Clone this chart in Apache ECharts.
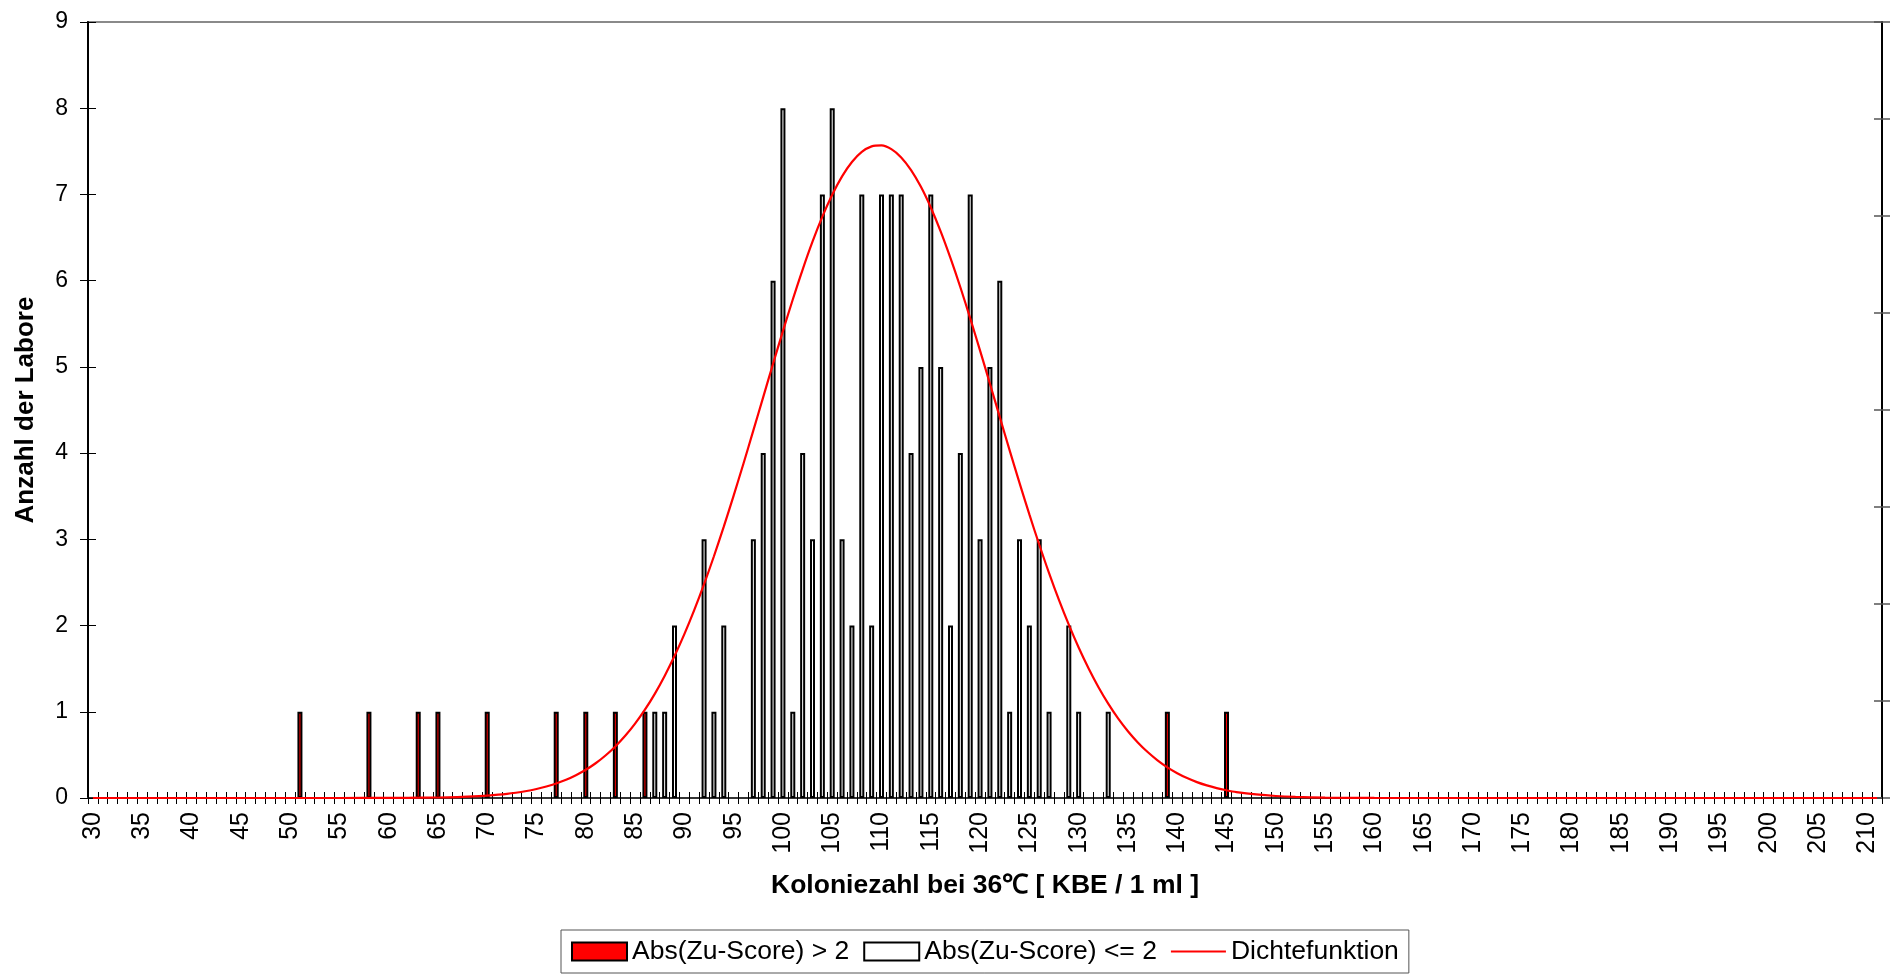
<!DOCTYPE html>
<html>
<head>
<meta charset="utf-8">
<script src="https://cdn.jsdelivr.net/npm/echarts@6/dist/echarts.min.js"></script>
<style>
  html, body { margin: 0; padding: 0; background: #fff; }
  #chart { width: 1899px; height: 978px; }
</style>
</head>
<body>
<div id="chart"></div>
<script>
// Colony counts (KBE / 1 ml), one category per integer value
const firstValue = 30;
const lastValue = 211;
const categories = [];
for (let v = firstValue; v <= lastValue; v++) categories.push(String(v));

// Labs with |z-score| > 2
const outlierX = [51, 58, 63, 65, 70, 77, 80, 83, 86, 139, 145];
const outlierCount = [1, 1, 1, 1, 1, 1, 1, 1, 1, 1, 1];

// Labs with |z-score| <= 2
const regularX = [87, 88, 89, 92, 93, 94, 97, 98, 99, 100, 101, 102, 103, 104, 105, 106, 107, 108, 109, 110,
                  111, 112, 113, 114, 115, 116, 117, 118, 119, 120, 121, 122, 123, 124, 125, 126, 127, 129, 130, 133];
const regularCount = [1, 1, 2, 3, 1, 2, 3, 4, 6, 8, 1, 4, 3, 7, 8, 3, 2, 7, 2, 7,
                      7, 7, 4, 5, 7, 5, 2, 4, 7, 3, 5, 6, 1, 3, 2, 3, 1, 2, 1, 1];

// Density curve sample points
const densityX = [30, 40, 50, 55, 60, 62, 64, 66, 68, 70, 72, 74, 75, 76, 77, 78, 79, 80, 81, 82, 83, 84, 85,
                  86, 87, 88, 89, 90, 91, 92, 93, 94, 95, 96, 97, 98, 99, 100, 101, 102, 103, 104, 105,
                  106, 107, 108, 109, 110, 111, 112, 113, 114, 115, 116, 117, 118, 119, 120, 121, 122, 123,
                  124, 125, 126, 127, 128, 129, 130, 131, 132, 133, 134, 135, 136, 137, 138, 139, 140, 141,
                  142, 143, 144, 145, 146, 148, 150, 152, 155, 160, 170, 180, 190, 200, 211];
const densityY = [0, 0, 0, 0, 0.001, 0.002, 0.005, 0.008, 0.016, 0.028, 0.048, 0.081, 0.104, 0.133, 0.168, 0.211, 0.264, 0.327, 0.403, 0.493, 0.598, 0.721, 0.862,
                  1.024, 1.208, 1.416, 1.646, 1.901, 2.179, 2.481, 2.804, 3.147, 3.507, 3.880, 4.263, 4.650, 5.036, 5.415, 5.782, 6.129, 6.452, 6.743, 6.997,
                  7.210, 7.376, 7.493, 7.557, 7.568, 7.525, 7.429, 7.282, 7.088, 6.849, 6.572, 6.261, 5.924, 5.563, 5.188, 4.805, 4.417, 4.032,
                  3.655, 3.289, 2.940, 2.608, 2.297, 2.010, 1.745, 1.505, 1.288, 1.095, 0.924, 0.775, 0.645, 0.533, 0.437, 0.356, 0.288, 0.231,
                  0.184, 0.146, 0.115, 0.090, 0.069, 0.041, 0.023, 0.013, 0.005, 0.001, 0, 0, 0, 0, 0];

const yTicks = [0, 1, 2, 3, 4, 5, 6, 7, 8, 9];

const FONT = "'Liberation Sans', Arial, sans-serif";

function alignToCategories(xs, ys) {
  return categories.map(c => {
    const i = xs.indexOf(Number(c));
    return i < 0 ? null : ys[i];
  });
}

const outlierSeries = alignToCategories(outlierX, outlierCount);
const regularSeries = alignToCategories(regularX, regularCount);
const densitySeries = densityX.map((x, i) => [String(x), densityY[i]]);

const chart = echarts.init(document.getElementById('chart'), null, { renderer: 'canvas' });

const hiddenAxisBits = { axisLabel: { show: false }, splitLine: { show: false } };

chart.setOption({
  animation: false,
  backgroundColor: '#ffffff',
  textStyle: { fontFamily: FONT, color: '#000' },
  grid: {
    left: 88, right: 17, top: 22, bottom: 180,
    show: true, borderColor: '#8a8a8a', borderWidth: 2, backgroundColor: 'transparent'
  },
  legend: {
    left: 561, top: 930,
    padding: [8, 10],
    itemGap: 14,
    itemWidth: 55, itemHeight: 18,
    borderColor: '#555', borderWidth: 1,
    backgroundColor: '#fff',
    textStyle: { fontFamily: FONT, fontSize: 26.5, color: '#000' },
    data: [
      { name: 'Abs(Zu-Score) > 2', icon: 'rect' },
      { name: 'Abs(Zu-Score) <= 2', icon: 'rect' },
      { name: 'Dichtefunktion', icon: 'path://M0,0 L55,0 L55,2.2 L0,2.2 Z', itemStyle: { color: '#ff0000', borderWidth: 0 } }
    ]
  },
  xAxis: [
    {
      type: 'category', data: categories, position: 'bottom', boundaryGap: true,
      axisLine: { show: true, onZero: false, lineStyle: { color: '#333', width: 2 } },
      axisTick: { show: true, interval: 0, length: 6, lineStyle: { color: '#000', width: 1 } },
      axisLabel: { interval: 4, rotate: 90, fontSize: 25, color: '#000', margin: 14, fontFamily: FONT },
      splitLine: { show: false },
      name: 'Koloniezahl bei 36℃ [ KBE / 1 ml ]',
      nameLocation: 'middle', nameGap: 74,
      nameTextStyle: { fontFamily: FONT, fontWeight: 'bold', fontSize: 26.5, color: '#000' }
    },
    {
      type: 'category', data: categories, position: 'bottom', boundaryGap: true,
      axisLine: { show: false, onZero: false },
      axisTick: { show: true, inside: true, interval: 0, length: 6, lineStyle: { color: '#000', width: 1 } },
      ...hiddenAxisBits
    }
  ],
  yAxis: [
    {
      type: 'value', position: 'left', min: yTicks[0], max: yTicks[yTicks.length - 1], interval: 1,
      axisLine: { show: true, onZero: false, lineStyle: { color: '#000', width: 2 } },
      axisTick: { show: true, length: 8, lineStyle: { color: '#000', width: 1 } },
      axisLabel: { fontSize: 23, margin: 20, color: '#000', fontFamily: FONT },
      splitLine: { show: false },
      name: 'Anzahl der Labore',
      nameLocation: 'middle', nameGap: 49,
      nameTextStyle: { fontFamily: FONT, fontWeight: 'bold', fontSize: 26, color: '#000' }
    },
    {
      type: 'value', position: 'left', min: 0, max: 9, interval: 1,
      axisLine: { show: false, onZero: false },
      axisTick: { show: true, inside: true, length: 8, lineStyle: { color: '#000', width: 1 } },
      ...hiddenAxisBits
    },
    {
      type: 'value', position: 'right', min: 0, max: 8, interval: 1,
      axisLine: { show: true, onZero: false, lineStyle: { color: '#000', width: 2 } },
      axisTick: { show: true, length: 8, lineStyle: { color: '#555', width: 1.5 } },
      ...hiddenAxisBits
    },
    {
      type: 'value', position: 'right', min: 0, max: 8, interval: 1,
      axisLine: { show: false, onZero: false },
      axisTick: { show: true, inside: true, length: 8, lineStyle: { color: '#555', width: 1.5 } },
      ...hiddenAxisBits
    }
  ],
  series: [
    {
      name: 'Abs(Zu-Score) > 2', type: 'bar', xAxisIndex: 0, yAxisIndex: 0,
      data: outlierSeries, barWidth: 5, barGap: '-100%',
      itemStyle: { color: '#ff0000', borderColor: '#000', borderWidth: 2 }
    },
    {
      name: 'Abs(Zu-Score) <= 2', type: 'bar', xAxisIndex: 0, yAxisIndex: 0,
      data: regularSeries, barWidth: 5, barGap: '-100%',
      itemStyle: { color: '#ffffff', borderColor: '#000', borderWidth: 2 }
    },
    {
      name: 'Dichtefunktion', type: 'line', xAxisIndex: 0, yAxisIndex: 0,
      data: densitySeries, smooth: 0.3, symbol: 'none',
      lineStyle: { color: '#ff0000', width: 2.2 },
      itemStyle: { color: '#ff0000' },
      z: 5
    }
  ]
});
</script>
</body>
</html>
